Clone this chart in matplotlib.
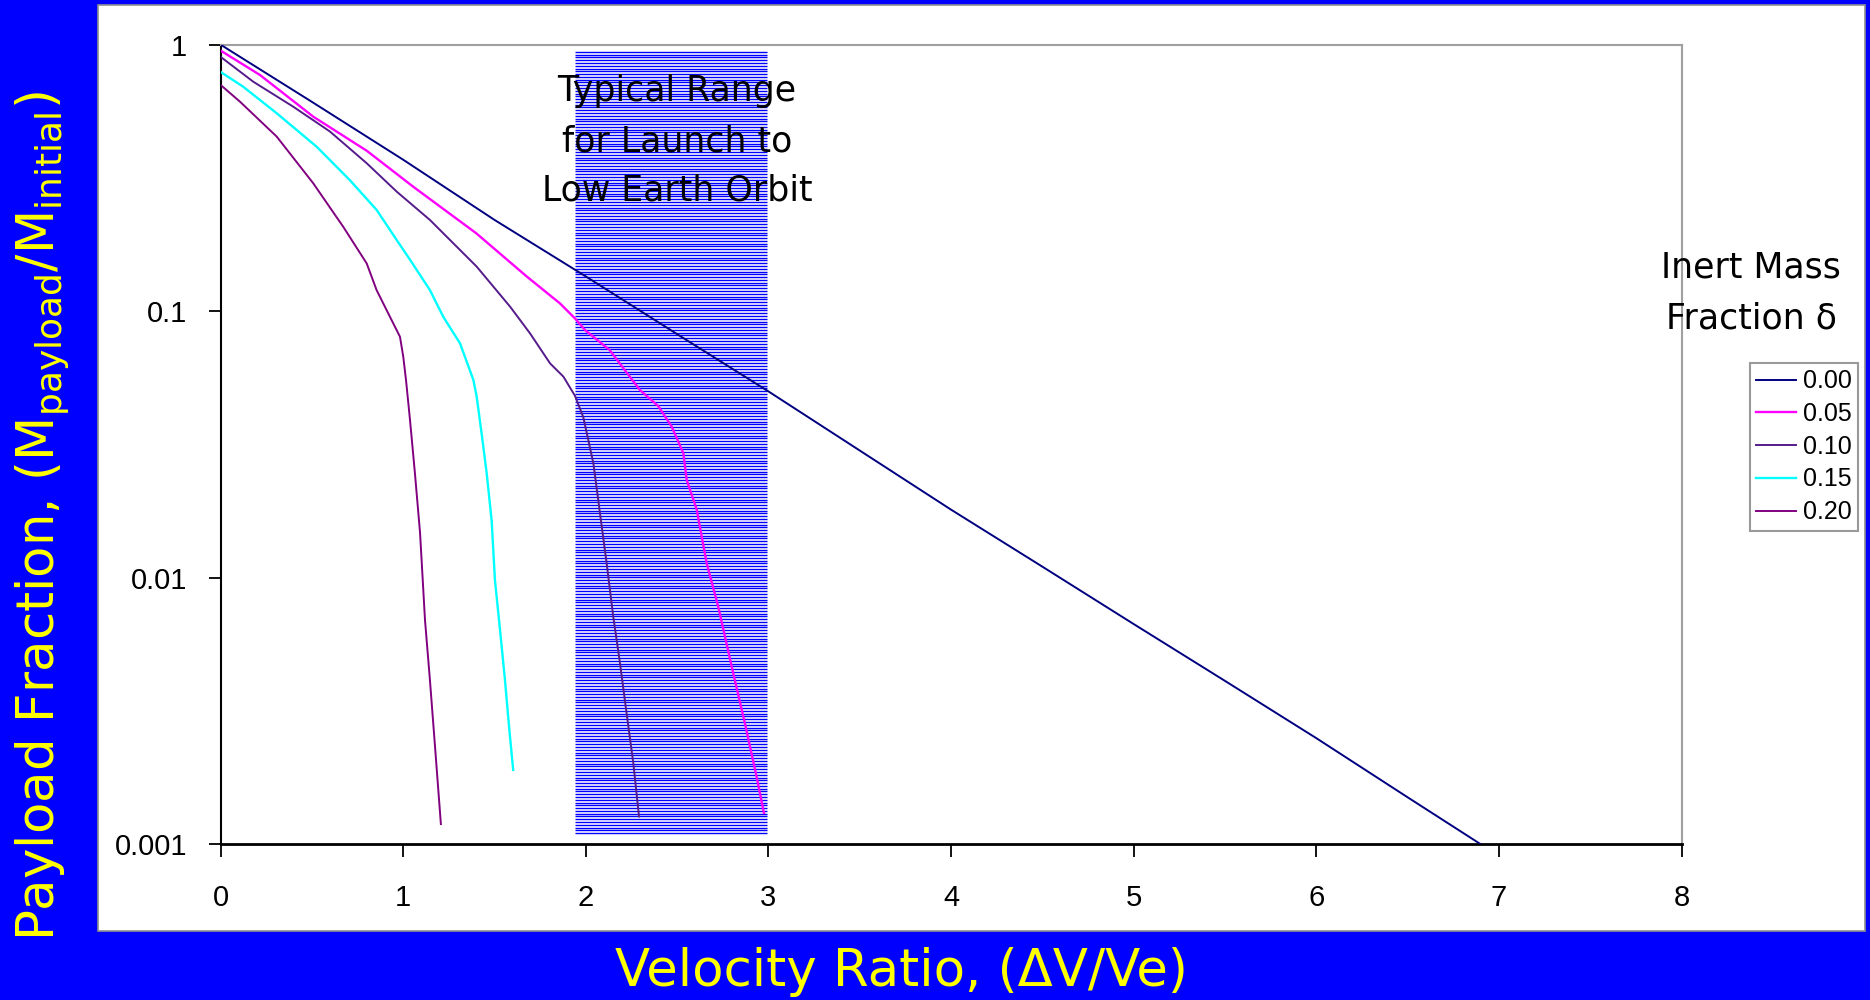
"""Payload fraction vs velocity ratio for several inert mass fractions."""

import numpy as np
import matplotlib.pyplot as plt
from matplotlib.patches import Rectangle

# curves: x = dV/Ve, y = M_payload / M_initial
X_D000 = [0, 0.5, 1, 1.5, 2, 2.5, 3, 3.5, 4, 4.5, 5, 5.5, 6, 6.5, 6.9]
Y_D000 = [1, 0.61, 0.37, 0.22, 0.135, 0.082, 0.05, 0.030, 0.018, 0.011,
          0.0067, 0.0041, 0.0025, 0.0015, 0.001]

X_D005 = [0, 0.215, 0.507, 0.80, 1.055, 1.40, 1.676, 1.858, 1.94, 1.995, 2.13,
          2.296, 2.397, 2.470, 2.534, 2.552, 2.607, 2.662, 2.725, 2.807, 2.871,
          2.935, 2.975]
Y_D005 = [0.95, 0.77, 0.537, 0.40, 0.293, 0.196, 0.135, 0.107, 0.094, 0.085,
          0.0715, 0.0506, 0.044, 0.0369, 0.0293, 0.0233, 0.018, 0.0113, 0.00778,
          0.00438, 0.00284, 0.00179, 0.00131]

X_D010 = [0, 0.179, 0.398, 0.599, 0.80, 0.964, 1.146, 1.402, 1.585, 1.694, 1.804,
          1.877, 1.94, 1.986, 2.041, 2.077, 2.114, 2.150, 2.187, 2.223, 2.260, 2.291]
Y_D010 = [0.90, 0.726, 0.585, 0.472, 0.359, 0.281, 0.22, 0.147, 0.104, 0.0826,
          0.0637, 0.0568, 0.0482, 0.040, 0.0269, 0.0175, 0.0113, 0.00714, 0.00477,
          0.0031, 0.00201, 0.00127]

X_D015 = [0, 0.124, 0.307, 0.526, 0.708, 0.854, 0.964, 1.037, 1.146, 1.219, 1.311,
          1.384, 1.402, 1.429, 1.457, 1.484, 1.502, 1.530, 1.557, 1.581, 1.602]
Y_D015 = [0.79, 0.695, 0.553, 0.414, 0.31, 0.24, 0.185, 0.156, 0.12, 0.0953,
          0.0757, 0.0552, 0.0478, 0.0348, 0.0246, 0.0164, 0.0098, 0.00636,
          0.00413, 0.00268, 0.0019]

X_D020 = [0, 0.106, 0.307, 0.507, 0.672, 0.80, 0.854, 0.927, 0.982, 1.0, 1.015,
          1.037, 1.064, 1.092, 1.119, 1.146, 1.174, 1.206]
Y_D020 = [0.706, 0.611, 0.452, 0.302, 0.207, 0.151, 0.12, 0.0953, 0.0802, 0.0675,
          0.0552, 0.039, 0.0246, 0.0147, 0.00694, 0.00413, 0.00232, 0.00119]

LABELS = ["0.00", "0.05", "0.10", "0.15", "0.20"]
COLORS = ["#000080", "#FF00FF", "#551A8B", "#00FFFF", "#800080"]
WIDTHS = [1.4, 1.7, 1.4, 1.7, 1.4]

# typical launch-to-LEO band
LEO_X = (1.94, 2.99)
LEO_Y = (0.0011, 0.94)

X_TICKS = [0, 1, 2, 3, 4, 5, 6, 7, 8]
Y_TICKS = [0.001, 0.01, 0.1, 1]
Y_TICKLABELS = ["0.001", "0.01", "0.1", "1"]

BLUE = "#0000FF"
YELLOW = "#FFFF00"
HAND = "DejaVu Sans"
TICKFONT = "Liberation Sans"

fig = plt.figure(figsize=(18.7, 10), dpi=100, facecolor=BLUE)

# white panel behind the chart
panel = Rectangle((0.0524, 0.069), 0.9449, 0.926, transform=fig.transFigure,
                  facecolor="white", edgecolor="#909090", linewidth=1.2, zorder=-5)
fig.patches.append(panel)

ax = fig.add_axes([0.1180, 0.1558, 0.7812, 0.9553 - 0.1558])
ax.set_zorder(2)
ax.set_facecolor("white")
ax.set_yscale("log")
ax.set_xlim(0, 8)
ax.set_ylim(0.001, 1)

# horizontal-line shading for the LEO range (y in axes fraction)
yb = (np.log10(LEO_Y[0]) + 3) / 3
yt = (np.log10(LEO_Y[1]) + 3) / 3
n_lines = 282
ax.hlines(np.linspace(yb, yt, n_lines), LEO_X[0], LEO_X[1],
          transform=ax.get_xaxis_transform(), color=BLUE, linewidth=1.0,
          zorder=1, snap=True)

series = [(X_D000, Y_D000), (X_D005, Y_D005), (X_D010, Y_D010),
          (X_D015, Y_D015), (X_D020, Y_D020)]
for (xs, ys), lab, col, lw in zip(series, LABELS, COLORS, WIDTHS):
    ax.plot(xs, ys, color=col, linewidth=lw, label=lab, zorder=3)

ax.text(2.5, 0.435, "Typical Range\nfor Launch to\nLow Earth Orbit",
        ha="center", va="center", fontsize=25, family=HAND,
        linespacing=1.58, zorder=4)

ax.set_xticks(X_TICKS)
ax.set_xticklabels([str(t) for t in X_TICKS], fontsize=21, family=TICKFONT)
ax.set_yticks(Y_TICKS)
ax.set_yticklabels(Y_TICKLABELS, fontsize=21, family=TICKFONT)
ax.minorticks_off()
ax.tick_params(axis="both", direction="out", length=9, width=1.3,
               colors="black")
ax.tick_params(axis="x", pad=20)
ax.tick_params(axis="y", pad=15)

ax.spines["top"].set_color("#A0A0A0")
ax.spines["right"].set_color("#A0A0A0")
ax.spines["top"].set_linewidth(1.5)
ax.spines["right"].set_linewidth(1.5)
ax.spines["left"].set_linewidth(1.5)
ax.spines["bottom"].set_linewidth(2.0)

# legend + its title
fig.text(0.9364, 0.707, "Inert Mass\nFraction \u03b4", ha="center", va="center",
         fontsize=25, family=HAND, linespacing=1.6, zorder=5)
leg = ax.legend(loc="upper left", bbox_to_anchor=(1750 / 1870, 1 - 363 / 1000),
                bbox_transform=fig.transFigure, frameon=True, fancybox=False,
                prop={"family": TICKFONT, "size": 18}, handlelength=1.6,
                handletextpad=0.25, labelspacing=0.35, borderpad=0.25,
                borderaxespad=0)
leg.get_frame().set_edgecolor("#808080")
leg.get_frame().set_linewidth(1.5)

fig.text(0.0223, 0.484,
         "Payload Fraction, (M$_{\\mathregular{payload}}$/M$_{\\mathregular{initial}}$)",
         rotation=90, ha="center", va="center", color=YELLOW, fontsize=37,
         family=HAND)
fig.text(0.4818, 0.028, "Velocity Ratio, (\u0394V/Ve)", ha="center",
         va="center", color=YELLOW, fontsize=37, family=HAND)

fig.savefig("out.png", dpi=100, facecolor=BLUE)
